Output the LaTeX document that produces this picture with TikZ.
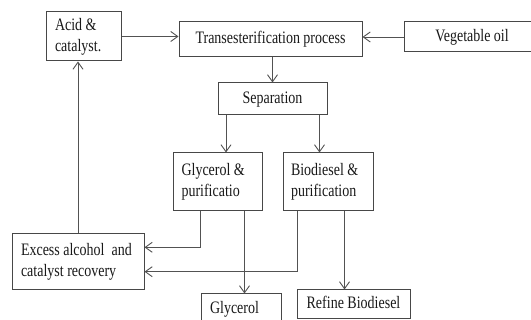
\documentclass[tikz,border=0pt]{standalone}
\usepackage{fontspec}
\setmainfont{Liberation Serif}
\usepackage{graphicx}
\usetikzlibrary{arrows.meta}
\newcommand\vs[1]{\scalebox{1}[1.25]{\begin{tabular}{@{}l@{}}#1\end{tabular}}}
\newcommand\lt[2]{\makebox[#1][l]{\vs{#2}}}
\begin{document}
\begin{tikzpicture}[x=1pt,y=-1pt,
  box/.style={draw=black!72,line width=1pt,inner sep=0pt,text=black!90,
    font=\fontsize{14}{16.8}\selectfont},
  arr/.style={draw=black!68,line width=0.9pt,-{Straight Barb[length=7pt,width=10pt,line width=0.9pt]}}]
\useasboundingbox (0,0) rectangle (531,320);
\clip (0,0) rectangle (531,320);
\fill[white] (0,0) rectangle (531,320);
\node[box,minimum width=75pt,minimum height=49pt] (acid) at (83.5,36.5) {\lt{57pt}{Acid \&\\catalyst.}};
\node[box,minimum width=183pt,minimum height=35pt] (trans) at (270.5,39.5) {\vs{Transesterification process}};
\node[box,minimum width=136pt,minimum height=30pt] (veg) at (472,37) {\vs{Vegetable oil}};
\node[box,minimum width=109pt,minimum height=32pt] (sep) at (272.5,99) {\vs{Separation}};
\node[box,minimum width=89pt,minimum height=58pt] (gp) at (217.5,182) {\lt{72pt}{Glycerol \&\\purificatio}};
\node[box,minimum width=90pt,minimum height=58pt] (bp) at (328,182) {\lt{74pt}{Biodiesel \&\\purification}};
\node[box,minimum width=132pt,minimum height=56pt] (ex) at (78,262) {\lt{114pt}{Excess alcohol\ \ and\\catalyst recovery}};
\node[box,minimum width=80pt,minimum height=30pt] (gl) at (241,309) {\lt{62pt}{Glycerol}};
\node[box,minimum width=113pt,minimum height=29pt] (rb) at (353.5,304.5) {\vs{Refine Biodiesel}};
% connectors
\draw[arr] (acid.east) -- (acid.east -| trans.west);
\draw[arr] (veg.west) -- (veg.west -| trans.east);
\draw[arr] (sep.north |- trans.south) -- (sep.north);
\draw[arr] ([xshift=8.5pt]sep.south west) coordinate (s1) -- (s1 |- gp.north);
\draw[arr] ([xshift=-8pt]sep.south east) coordinate (s2) -- (s2 |- bp.north);
\draw[arr] (ex.north) -- (ex.north |- acid.south);
\draw[arr] ([xshift=28pt]gp.south west) |- ([yshift=14.7pt]ex.east);
\draw[arr] ([xshift=15pt]bp.south west) |- ([yshift=-9.7pt]ex.east);
\draw[arr] ([xshift=72pt]gp.south west) coordinate (g1) -- (g1 |- gl.north);
\draw[arr] ([xshift=62pt]bp.south west) coordinate (b1) -- (b1 |- rb.north);
\end{tikzpicture}
\end{document}
